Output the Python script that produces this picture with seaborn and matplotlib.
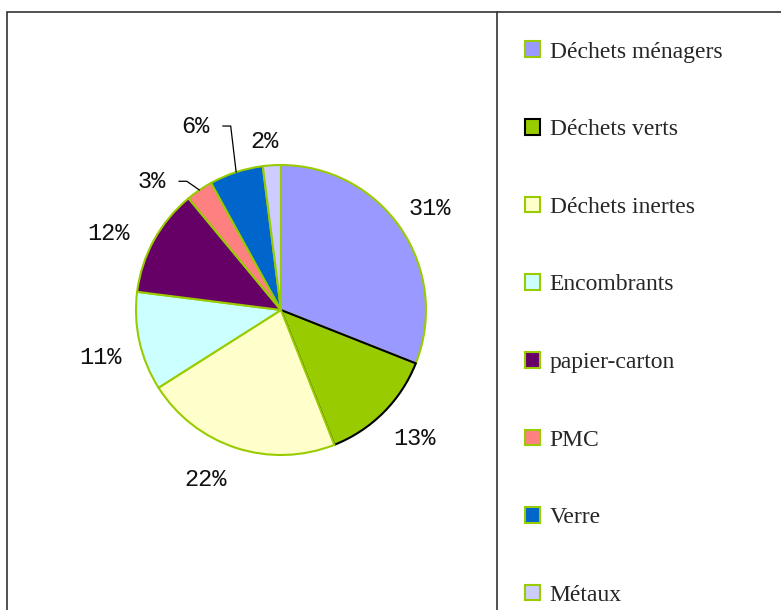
import numpy as np
import matplotlib
matplotlib.use("Agg")
import matplotlib.pyplot as plt
from matplotlib.patches import Rectangle, Patch
from matplotlib.lines import Line2D
import seaborn as sns

# Data
categories = ["Déchets ménagers", "Déchets verts", "Déchets inertes", "Encombrants",
              "papier-carton", "PMC", "Verre", "Métaux"]
shares = [31, 13, 22, 11, 12, 3, 6, 2]
colors = ["#9999FF", "#99CC00", "#FFFFCC", "#CCFFFF", "#660066", "#FF8080", "#0066CC", "#CCCCFF"]
edges = ["#99CC00", "#000000", "#99CC00", "#99CC00", "#99CC00", "#99CC00", "#99CC00", "#99CC00"]

sns.set_theme(style="white")
plt.rcParams['font.family'] = ['Liberation Mono', 'DejaVu Sans']

fig = plt.figure(figsize=(7.81, 6.1), dpi=100)
ax = fig.add_axes([0.1741, 0.2541, 0.3713, 0.4754])

wedges, _ = ax.pie(shares, colors=colors, startangle=90, counterclock=False,
                   radius=1.0, wedgeprops=dict(linewidth=1.5))
for w, ec in zip(wedges, edges):
    w.set_edgecolor(ec)
ax.set_xlim(-1, 1)
ax.set_ylim(-1, 1)
ax.set_aspect("equal")
ax.axis("off")

# label distances (in radii) and angle nudges per slice
label_r = [1.24, 1.28, 1.28, 1.29, 1.30, 1.26, 1.40, 1.17]
label_da = [0, 1, -6, 2, 5, 11, 7, 2]
leader = [False, False, False, False, False, True, True, False]
for w, v, r, da, ld in zip(wedges, shares, label_r, label_da, leader):
    mid = np.deg2rad((w.theta1 + w.theta2) / 2)
    ang = mid + np.deg2rad(da)
    tx, ty = r * np.cos(ang), r * np.sin(ang)
    ax.text(tx, ty, f"{v}%", ha="center", va="center", fontsize=17, color="#111111",
            fontfamily="Liberation Mono", clip_on=False)
    if ld:
        ex, ey = 1.0 * np.cos(mid), 1.0 * np.sin(mid)
        ax.add_line(Line2D([tx + 0.19, tx + 0.245, ex], [ty, ty, ey], color="black",
                           lw=0.9, clip_on=False))

# outer frame and legend separator
fig.patches.append(Rectangle((0.009, -0.05), 1.2, 1.03, transform=fig.transFigure,
                             fill=False, edgecolor="#333333", lw=1.2))
fig.lines.append(Line2D([0.636, 0.636], [-0.05, 0.98], transform=fig.transFigure,
                        color="#333333", lw=1.2))

handles = [Patch(facecolor=c, edgecolor=e, linewidth=1.5) for c, e in zip(colors, edges)]
leg = fig.legend(handles, categories, loc="upper left", bbox_to_anchor=(0.672, 0.932),
                 frameon=False, prop={"family": "Liberation Serif", "size": 17},
                 handlelength=0.65, handleheight=0.65, handletextpad=0.4,
                 labelspacing=2.39, borderpad=0, borderaxespad=0)

fig.savefig("out.png", dpi=100)
